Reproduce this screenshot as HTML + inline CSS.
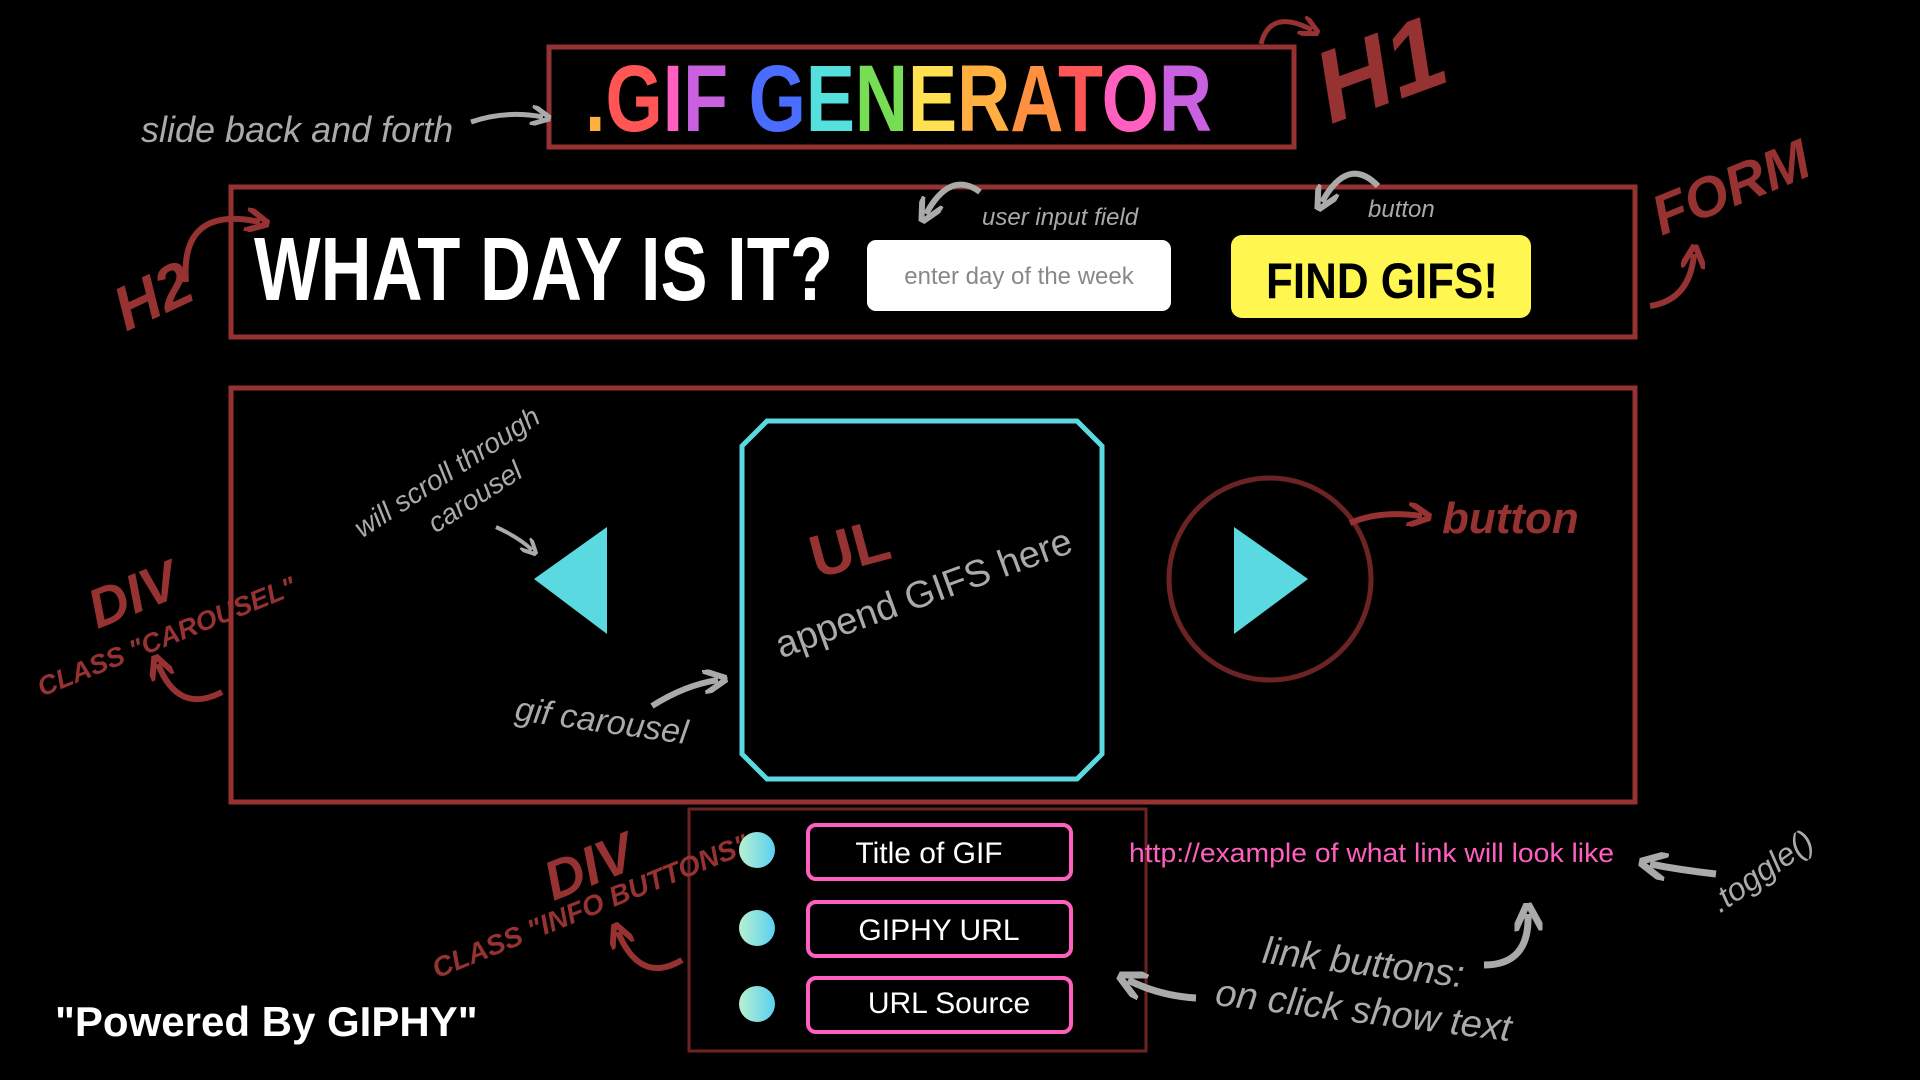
<!DOCTYPE html>
<html><head><meta charset="utf-8"><style>
html,body{margin:0;padding:0;background:#000;}
svg{display:block;}
text{font-family:"Liberation Sans",sans-serif;}
</style></head><body>
<svg width="1920" height="1080" viewBox="0 0 1920 1080" xmlns="http://www.w3.org/2000/svg">
<defs>
<marker id="ag" viewBox="0 0 10 10" refX="6" refY="5" markerWidth="4" markerHeight="4" orient="auto"><path d="M0,0 L10,5 L0,10" fill="none" stroke="#aaa" stroke-width="2.5"/></marker>
<marker id="ar" viewBox="0 0 10 10" refX="6" refY="5" markerWidth="4" markerHeight="4" orient="auto"><path d="M0,0 L10,5 L0,10" fill="none" stroke="#963232" stroke-width="2.5"/></marker>
<linearGradient id="cg" x1="0" y1="0" x2="1" y2="0"><stop offset="0" stop-color="#b8f0d0"/><stop offset="1" stop-color="#5ad0f0"/></linearGradient>
</defs>
<rect width="1920" height="1080" fill="#000"/>

<rect x="549" y="47" width="745" height="100" fill="none" stroke="#963232" stroke-width="5"/>
<rect x="231" y="187" width="1404" height="150" fill="none" stroke="#963232" stroke-width="5"/>
<rect x="231" y="388" width="1404" height="414" fill="none" stroke="#963232" stroke-width="5"/>
<rect x="689" y="809" width="457" height="242" fill="none" stroke="#6b2323" stroke-width="3"/>

<text x="585" y="131" font-size="95" font-weight="bold" textLength="627" lengthAdjust="spacingAndGlyphs"><tspan fill="#ffb040">.</tspan><tspan fill="#ff5555">G</tspan><tspan fill="#ff5fbf">I</tspan><tspan fill="#c860e0">F</tspan><tspan> </tspan><tspan fill="#4a6cff">G</tspan><tspan fill="#55e0e0">E</tspan><tspan fill="#77dd55">N</tspan><tspan fill="#ffe050">E</tspan><tspan fill="#ffb040">R</tspan><tspan fill="#ff9040">A</tspan><tspan fill="#ff5555">T</tspan><tspan fill="#ff5fbf">O</tspan><tspan fill="#c860e0">R</tspan></text>

<text x="141" y="142" font-size="36" font-style="italic" fill="#aaa">slide back and forth</text>
<path d="M471,122 Q505,110 543,117" fill="none" stroke="#aaa" stroke-width="5" marker-end="url(#ag)"/>

<text transform="translate(1392,102) rotate(-20)" text-anchor="middle" font-size="102" font-weight="bold" font-style="italic" fill="#963232">H1</text>
<path d="M1261,44 Q1270,8 1312,30" fill="none" stroke="#963232" stroke-width="5" marker-end="url(#ar)"/>

<text x="254" y="300" font-size="90" font-weight="bold" fill="#fff" textLength="579" lengthAdjust="spacingAndGlyphs">WHAT DAY IS IT?</text>
<rect x="867" y="240" width="304" height="71" rx="9" fill="#fff"/>
<text x="1019" y="284" text-anchor="middle" font-size="24" fill="#888">enter day of the week</text>
<rect x="1231" y="235" width="300" height="83" rx="11" fill="#fff650"/>
<text x="1382" y="298" text-anchor="middle" font-size="50" font-weight="bold" fill="#000" textLength="232" lengthAdjust="spacingAndGlyphs">FIND GIFS!</text>
<text x="982" y="225" font-size="24" font-style="italic" fill="#aaa">user input field</text>
<text x="1368" y="217" font-size="24" font-style="italic" fill="#aaa">button</text>
<path d="M980,192 Q950,170 926,214" fill="none" stroke="#aaa" stroke-width="6" marker-end="url(#ag)"/>
<path d="M1378,186 Q1348,155 1322,202" fill="none" stroke="#aaa" stroke-width="6" marker-end="url(#ag)"/>

<text transform="translate(162,315) rotate(-25)" text-anchor="middle" font-size="62" font-weight="bold" font-style="italic" fill="#963232">H2</text>
<path d="M186,282 Q180,205 260,222" fill="none" stroke="#963232" stroke-width="6" marker-end="url(#ar)"/>
<text transform="translate(1738,205) rotate(-22)" text-anchor="middle" font-size="56" font-weight="bold" font-style="italic" fill="#963232">FORM</text>
<path d="M1650,306 Q1690,300 1694,254" fill="none" stroke="#963232" stroke-width="6" marker-end="url(#ar)"/>

<polygon points="534,579 607,527 607,634" fill="#5ad9e0"/>
<polygon points="767,421 1077,421 1102,446 1102,754 1077,779 767,779 742,754 742,446" fill="none" stroke="#5ad9e0" stroke-width="5"/>
<circle cx="1270" cy="579" r="101" fill="none" stroke="#6b2323" stroke-width="5"/>
<polygon points="1234,527 1308,579 1234,634" fill="#5ad9e0"/>
<text x="1442" y="533" font-size="44" font-weight="bold" font-style="italic" fill="#963232">button</text>
<path d="M1350,523 Q1380,510 1422,516" fill="none" stroke="#963232" stroke-width="6" marker-end="url(#ar)"/>

<text transform="translate(855,568) rotate(-15)" text-anchor="middle" font-size="60" font-weight="bold" fill="#963232">UL</text>
<text transform="translate(928,605) rotate(-20)" text-anchor="middle" font-size="38" fill="#aaa">append GIFS here</text>

<g transform="translate(452,480) rotate(-33)" fill="#aaa" font-size="28" font-style="italic" text-anchor="middle"><text x="0" y="0">will scroll through</text><text x="10" y="36">carousel</text></g>
<path d="M496,527 Q520,538 532,550" fill="none" stroke="#aaa" stroke-width="4" marker-end="url(#ag)"/>
<text transform="translate(600,732) rotate(8)" text-anchor="middle" font-size="34" font-style="italic" fill="#aaa">gif carousel</text>
<path d="M652,706 Q685,685 718,680" fill="none" stroke="#aaa" stroke-width="6" marker-end="url(#ag)"/>

<text transform="translate(140,612) rotate(-22)" text-anchor="middle" font-size="55" font-weight="bold" font-style="italic" fill="#963232">DIV</text>
<text transform="translate(170,645) rotate(-22)" text-anchor="middle" font-size="27" font-weight="bold" font-style="italic" fill="#963232">CLASS "CAROUSEL"</text>
<path d="M222,692 Q178,715 158,664" fill="none" stroke="#963232" stroke-width="6" marker-end="url(#ar)"/>

<text transform="translate(596,884) rotate(-22)" text-anchor="middle" font-size="55" font-weight="bold" font-style="italic" fill="#963232">DIV</text>
<text transform="translate(594,915) rotate(-22)" text-anchor="middle" font-size="28" font-weight="bold" font-style="italic" fill="#963232">CLASS "INFO BUTTONS"</text>
<path d="M682,960 Q640,985 618,932" fill="none" stroke="#963232" stroke-width="6" marker-end="url(#ar)"/>

<circle cx="757" cy="850" r="18" fill="url(#cg)"/>
<circle cx="757" cy="928" r="18" fill="url(#cg)"/>
<circle cx="757" cy="1004" r="18" fill="url(#cg)"/>
<rect x="808" y="825" width="263" height="54" rx="8" fill="none" stroke="#ff5fbf" stroke-width="4"/>
<rect x="808" y="902" width="263" height="54" rx="8" fill="none" stroke="#ff5fbf" stroke-width="4"/>
<rect x="808" y="978" width="263" height="54" rx="8" fill="none" stroke="#ff5fbf" stroke-width="4"/>
<text x="929" y="863" text-anchor="middle" font-size="30" fill="#fff">Title of GIF</text>
<text x="939" y="940" text-anchor="middle" font-size="30" fill="#fff">GIPHY URL</text>
<text x="949" y="1013" text-anchor="middle" font-size="30" fill="#fff">URL Source</text>

<text x="1129" y="862" font-size="27" fill="#ff5fbf" textLength="485" lengthAdjust="spacingAndGlyphs">http://example of what link will look like</text>
<text transform="translate(1768,880) rotate(-35)" text-anchor="middle" font-size="32" font-style="italic" fill="#aaa">.toggle()</text>
<path d="M1716,874 Q1680,870 1650,864" fill="none" stroke="#aaa" stroke-width="7" marker-end="url(#ag)"/>
<text transform="translate(1362,975) rotate(7)" text-anchor="middle" font-size="38" font-style="italic" fill="#aaa">link buttons:</text>
<text transform="translate(1362,1023) rotate(7)" text-anchor="middle" font-size="38" font-style="italic" fill="#aaa">on click show text</text>
<path d="M1484,965 Q1530,965 1528,914" fill="none" stroke="#aaa" stroke-width="7" marker-end="url(#ag)"/>
<path d="M1196,998 Q1160,996 1128,980" fill="none" stroke="#aaa" stroke-width="7" marker-end="url(#ag)"/>

<text x="55" y="1036" font-size="42" font-weight="bold" fill="#fff">"Powered By GIPHY"</text>
</svg>
</body></html>
